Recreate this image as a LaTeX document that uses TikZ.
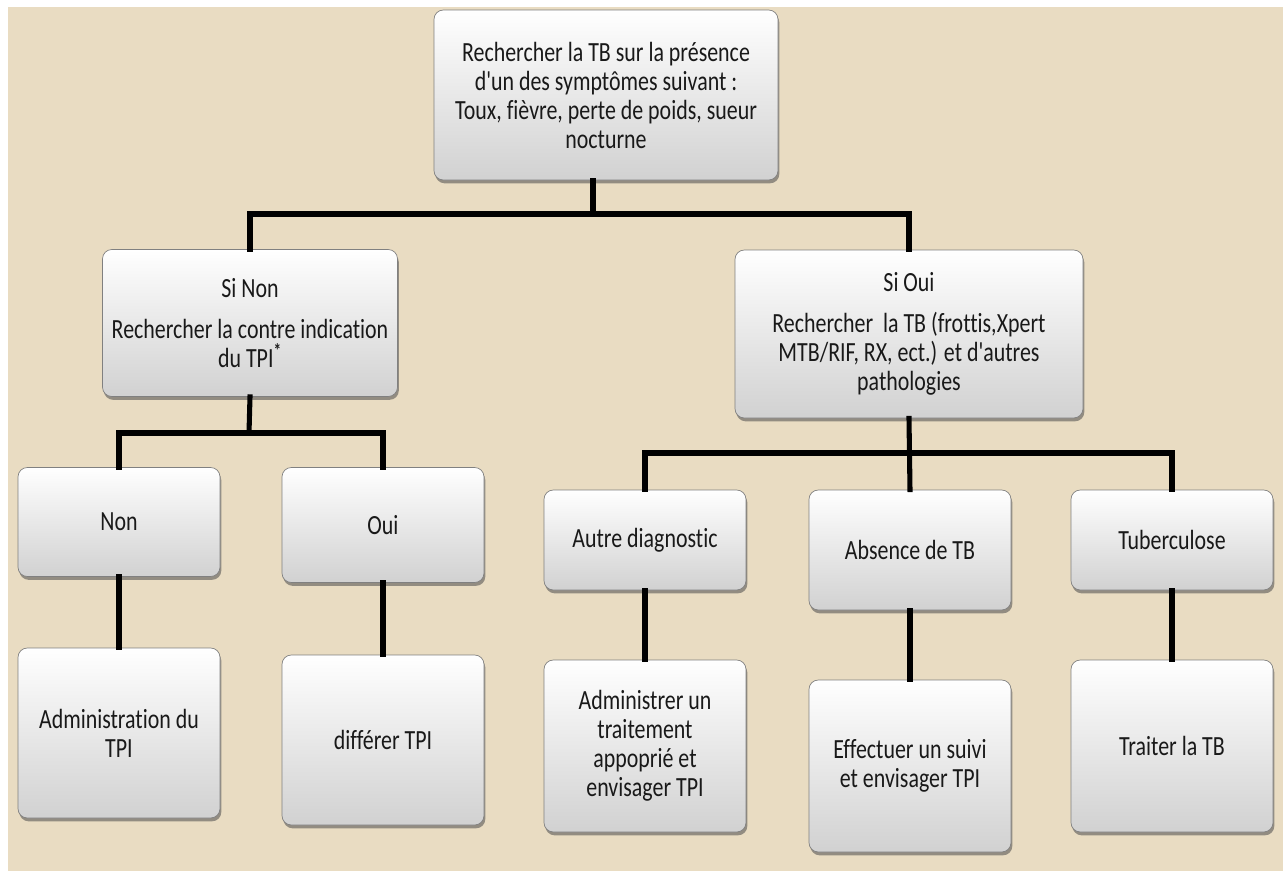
\documentclass[tikz,border=0pt]{standalone}
\usepackage{fontspec}
\setmainfont{Carlito}[FakeStretch=0.79, Ligatures={NoCommon,TeXOff}]
\usetikzlibrary{shadows}
\definecolor{bgbeige}{RGB}{233,220,194}
\definecolor{txt}{RGB}{25,25,25}
\tikzset{
  bx/.style 2 args={
    rounded corners=7pt, draw=black!50, line width=0.5pt,
    top color=white, bottom color=black!18,
    drop shadow={shadow xshift=1pt, shadow yshift=-2.5pt, opacity=0.55, fill=black!70},
    minimum width=#1*0.75pt, minimum height=#2*0.75pt,
    align=center, inner sep=2pt, text=txt,
    font=\fontsize{20.8pt}{21.75pt}\selectfont},
  conn/.style={line width=3.8pt, draw=black, line join=miter, line cap=rect}
}
\begin{document}
\begin{tikzpicture}[x=0.75pt, y=-0.75pt]
\useasboundingbox (0,0) rectangle (1283,871);
\fill[white] (0,0) rectangle (1283,871);
\fill[bgbeige] (8,7) rectangle (1283,871);

% level 0
\node[bx={344}{170}] (top) at (606,95) {Rechercher la TB sur la présence\\d'un des symptômes suivant :\\Toux, fièvre, perte de poids, sueur\\nocturne};
% level 1
\node[bx={295}{147}] (sinon) at (250,323) {Si Non\\[9pt]Rechercher la contre indication\\du TPI\textsuperscript{\textbf{*}}};
\node[bx={348}{168}] (sioui) at (909,334) {Si Oui\\[9pt]Rechercher\ \ la TB (frottis,Xpert\\MTB/RIF, RX, ect.) et d'autres\\pathologies};
% level 2 left
\node[bx={202}{109}] (non) at (119,522) {Non};
\node[bx={202}{115}] (oui) at (383,525) {Oui};
% level 2 right
\node[bx={202}{100}] (autre) at (645,540) {Autre diagnostic};
\node[bx={202}{120}] (absence) at (910,550) {Absence de TB};
\node[bx={202}{100}] (tuber) at (1172,540) {Tuberculose};
% level 3
\node[bx={202}{170}] (admin) at (119,733) {Administration du\\TPI};
\node[bx={202}{170}] (differ) at (383,740) {différer TPI};
\node[bx={202}{172}] (administrer) at (645,746) {Administrer un\\traitement\\appoprié et\\envisager TPI};
\node[bx={202}{172}] (effectuer) at (910,766) {Effectuer un suivi\\et envisager TPI};
\node[bx={202}{172}] (traiter) at (1172,746) {Traiter la TB};

% junctions
\coordinate (j0) at (593,214);
\coordinate (j1) at (249,433);
\coordinate (j2) at (909,453);

\draw[conn] (top.south -| j0) -- (j0);
\draw[conn] (sinon.north) |- (j0) -| (sioui.north);
\draw[conn] (sinon.south) -- (j1);
\draw[conn] (non.north) |- (j1) -| (oui.north);
\draw[conn] (sioui.south) -- (absence.north);
\draw[conn] (autre.north) |- (j2) -| (tuber.north);
\draw[conn] (non.south) -- (admin.north);
\draw[conn] (oui.south) -- (differ.north);
\draw[conn] (autre.south) -- (administrer.north);
\draw[conn] (absence.south) -- (effectuer.north);
\draw[conn] (tuber.south) -- (traiter.north);
\end{tikzpicture}
\end{document}
